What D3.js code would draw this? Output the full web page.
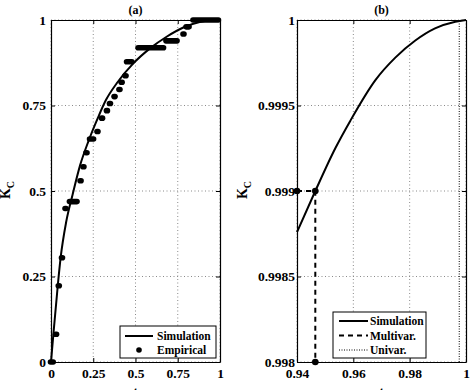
<!DOCTYPE html>
<html>
<head>
<meta charset="utf-8">
<script src="https://cdn.jsdelivr.net/npm/d3@7"></script>
<style>
body { margin: 0; background: #fff; }
svg text { font-family: "Liberation Serif", "Times New Roman", serif; font-weight: bold; fill: #000; }
</style>
</head>
<body>
<svg id="chart" width="471" height="390"></svg>
<script>
// ---- panel (a) : simulated curve
var simT = [0, 0.014, 0.04, 0.057, 0.09, 0.128, 0.172, 0.221, 0.28, 0.325, 0.389, 0.487, 0.586, 0.684, 0.783, 0.88, 0.94, 1];
var simK = [0, 0.081, 0.223, 0.305, 0.41, 0.49, 0.575, 0.645, 0.717, 0.766, 0.815, 0.873, 0.917, 0.951, 0.978, 0.994, 0.99876, 1];

// ---- panel (a) : empirical points (runs of dots: first t, last t, K)
var empStart = [0, 0.03, 0.046, 0.065, 0.086, 0.112, 0.175, 0.192, 0.21, 0.231, 0.275, 0.302, 0.331, 0.349, 0.376, 0.405, 0.418, 0.441, 0.45, 0.518, 0.683, 0.784, 0.802, 0.843];
var empEnd   = [0.01, 0.03, 0.046, 0.065, 0.086, 0.151, 0.175, 0.192, 0.21, 0.249, 0.275, 0.302, 0.331, 0.349, 0.376, 0.405, 0.418, 0.441, 0.476, 0.663, 0.743, 0.784, 0.814, 0.988];
var empK     = [0, 0.081, 0.223, 0.305, 0.449, 0.469, 0.53, 0.571, 0.612, 0.652, 0.674, 0.713, 0.735, 0.756, 0.776, 0.797, 0.818, 0.837, 0.878, 0.919, 0.939, 0.959, 0.98, 1];

// ---- panel (b) : zoom near t = 1
var zoomT = [0.94, 0.9465, 0.9536, 0.9589, 0.9679, 0.9749, 0.982, 0.989, 0.9962, 1];
var zoomK = [0.99876, 0.999, 0.99925, 0.99941, 0.99965, 0.99978, 0.99988, 0.999951, 0.99999, 1];
var multiT = 0.9465, multiK = 0.999;
var univT = 0.9976;

// ---- ticks
var ticksA = [0, 0.25, 0.5, 0.75, 1];
var tickLabelsA = ["0", "0.25", "0.5", "0.75", "1"];
var ticksBx = [0.94, 0.96, 0.98, 1];
var tickLabelsBx = ["0.94", "0.96", "0.98", "1"];
var ticksBy = [0.998, 0.9985, 0.999, 0.9995, 1];
var tickLabelsBy = ["0.998", "0.9985", "0.999", "0.9995", "1"];

var svg = d3.select("#chart");
var top_ = 20, bottom = 362;

function drawFrame(x, y, xt, xlab, yt, ylab, title, ypad) {
    var g = svg.append("g");
    var x0 = x.range()[0], x1 = x.range()[1];

    // dotted grid
    g.selectAll(".gx").data(xt).enter().append("line")
        .attr("x1", d => x(d)).attr("x2", d => x(d))
        .attr("y1", top_).attr("y2", bottom)
        .attr("stroke", "#8a8a8a").attr("stroke-width", 1)
        .attr("stroke-dasharray", "1,2.5");
    g.selectAll(".gy").data(yt).enter().append("line")
        .attr("x1", x0).attr("x2", x1)
        .attr("y1", d => y(d)).attr("y2", d => y(d))
        .attr("stroke", "#8a8a8a").attr("stroke-width", 1)
        .attr("stroke-dasharray", "1,2.5");

    var bx = d3.axisBottom(x).tickValues(xt).tickSizeInner(-4).tickSizeOuter(0).tickPadding(6)
        .tickFormat((d, i) => xlab[i]);
    var ly = d3.axisLeft(y).tickValues(yt).tickSizeInner(-4).tickSizeOuter(0).tickPadding(ypad)
        .tickFormat((d, i) => ylab[i]);
    var tx = d3.axisTop(x).tickValues(xt).tickSizeInner(-4).tickSizeOuter(0).tickFormat("");
    var ry = d3.axisRight(y).tickValues(yt).tickSizeInner(-4).tickSizeOuter(0).tickFormat("");

    g.append("g").attr("transform", "translate(0," + bottom + ")").call(bx);
    g.append("g").attr("transform", "translate(" + x0 + ",0)").call(ly);
    g.append("g").attr("transform", "translate(0," + top_ + ")").call(tx);
    g.append("g").attr("transform", "translate(" + x1 + ",0)").call(ry);

    g.selectAll(".domain").attr("stroke", "#000").attr("stroke-width", 1.2);
    g.selectAll(".tick line").attr("stroke", "#000");
    g.selectAll(".tick text").style("font-size", "13.5px")
        .style("font-family", '"Liberation Serif", serif').style("font-weight", "bold");

    // title
    svg.append("text").attr("x", (x0 + x1) / 2).attr("y", 14)
        .attr("text-anchor", "middle").style("font-size", "12px").text(title);
    // x label
    svg.append("text").attr("x", (x0 + x1) / 2).attr("y", 397)
        .attr("text-anchor", "middle").style("font-size", "14px").text("t");
    return g;
}

function yLabel(xpos) {
    var t = svg.append("text")
        .attr("transform", "translate(" + xpos + ",190) rotate(-90)")
        .attr("text-anchor", "middle").style("font-size", "14px");
    t.append("tspan").text("K");
    t.append("tspan").attr("dy", 4).style("font-size", "10px").text("C");
}

// ================= panel (a)
var xa = d3.scaleLinear().domain([0, 1]).range([51, 220]);
var ya = d3.scaleLinear().domain([0, 1]).range([bottom, top_]);
drawFrame(xa, ya, ticksA, tickLabelsA, ticksA, tickLabelsA, "(a)", 5);
yLabel(10);

var line = d3.line().curve(d3.curveMonotoneX);

svg.append("path")
    .attr("d", line(simT.map((t, i) => [xa(t), ya(simK[i])])))
    .attr("fill", "none").attr("stroke", "#000").attr("stroke-width", 2);

svg.append("g").selectAll("rect").data(empK).enter().append("rect")
    .attr("x", (d, i) => xa(empStart[i]) - 3.3)
    .attr("width", (d, i) => xa(empEnd[i]) - xa(empStart[i]) + 6.6)
    .attr("y", d => ya(d) - 2.8)
    .attr("height", 5.6)
    .attr("rx", 2.8).attr("ry", 2.8)
    .attr("fill", "#000");

// legend (a)
var lga = svg.append("g");
lga.append("rect").attr("x", 120).attr("y", 326).attr("width", 96).attr("height", 32)
    .attr("fill", "#fff").attr("stroke", "#000").attr("stroke-width", 1);
lga.append("line").attr("x1", 125).attr("x2", 153).attr("y1", 336).attr("y2", 336)
    .attr("stroke", "#000").attr("stroke-width", 2);
lga.append("circle").attr("cx", 139).attr("cy", 350).attr("r", 2.8).attr("fill", "#000");
lga.append("text").attr("x", 157).attr("y", 340).style("font-size", "11.5px").text("Simulation");
lga.append("text").attr("x", 157).attr("y", 354).style("font-size", "11.5px").text("Empirical");

// ================= panel (b)
var xb = d3.scaleLinear().domain([0.94, 1]).range([297, 466]);
var yb = d3.scaleLinear().domain([0.998, 1]).range([bottom, top_]);
drawFrame(xb, yb, ticksBx, tickLabelsBx, ticksBy, tickLabelsBy, "(b)", 2);
yLabel(247);

svg.append("path")
    .attr("d", line(zoomT.map((t, i) => [xb(t), yb(zoomK[i])])))
    .attr("fill", "none").attr("stroke", "#000").attr("stroke-width", 2);

// multivariate estimate
svg.append("path")
    .attr("d", d3.line()([[xb(0.94), yb(multiK)], [xb(multiT), yb(multiK)], [xb(multiT), yb(0.998)]]))
    .attr("fill", "none").attr("stroke", "#000").attr("stroke-width", 2)
    .attr("stroke-dasharray", "5,4");
svg.append("g").selectAll("circle")
    .data([[0.94, multiK], [multiT, multiK], [multiT, 0.998]])
    .enter().append("circle")
    .attr("cx", d => xb(d[0])).attr("cy", d => yb(d[1])).attr("r", 3.3).attr("fill", "#000");

// univariate estimate
svg.append("line")
    .attr("x1", xb(univT)).attr("x2", xb(univT))
    .attr("y1", yb(0.998)).attr("y2", yb(1))
    .attr("stroke", "#000").attr("stroke-width", 1).attr("stroke-dasharray", "1,1.5");

// legend (b)
var lgb = svg.append("g");
lgb.append("rect").attr("x", 333).attr("y", 312).attr("width", 93).attr("height", 46)
    .attr("fill", "#fff").attr("stroke", "#000").attr("stroke-width", 1);
lgb.append("line").attr("x1", 339).attr("x2", 368).attr("y1", 321).attr("y2", 321)
    .attr("stroke", "#000").attr("stroke-width", 2);
lgb.append("line").attr("x1", 339).attr("x2", 368).attr("y1", 335.5).attr("y2", 335.5)
    .attr("stroke", "#000").attr("stroke-width", 2).attr("stroke-dasharray", "5,4");
lgb.append("line").attr("x1", 339).attr("x2", 368).attr("y1", 350).attr("y2", 350)
    .attr("stroke", "#000").attr("stroke-width", 1).attr("stroke-dasharray", "1,1.5");
lgb.append("text").attr("x", 370).attr("y", 325).style("font-size", "11.5px").text("Simulation");
lgb.append("text").attr("x", 370).attr("y", 339.5).style("font-size", "11.5px").text("Multivar.");
lgb.append("text").attr("x", 370).attr("y", 354).style("font-size", "11.5px").text("Univar.");
</script>
</body>
</html>
